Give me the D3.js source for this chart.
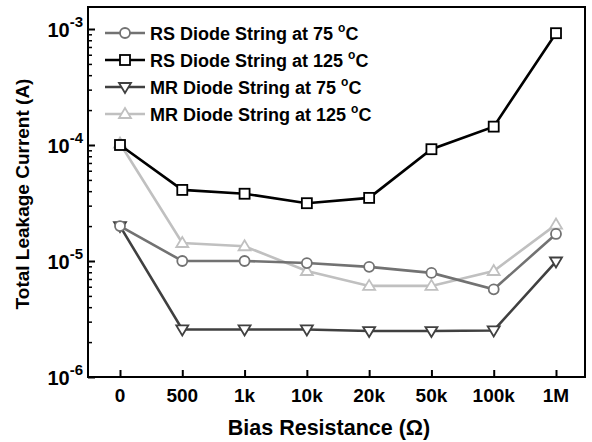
<!DOCTYPE html>
<html><head><meta charset="utf-8">
<script src="https://cdn.jsdelivr.net/npm/d3@7"></script>
<style>
html,body{margin:0;padding:0;background:#fff;}
text{font-family:Arial,"Liberation Sans",sans-serif;font-weight:bold;}
</style></head>
<body><svg id="c" width="592" height="442"></svg>
<script>
const categories = ["0","500","1k","10k","20k","50k","100k","1M"];
const rs75  = [2.0e-5, 1.0e-5, 1.0e-5, 9.6e-6, 8.9e-6, 7.9e-6, 5.7e-6, 1.71e-5];
const rs125 = [1.0e-4, 4.1e-5, 3.8e-5, 3.15e-5, 3.5e-5, 9.2e-5, 1.44e-4, 9.2e-4];
const mr75  = [2.0e-5, 2.57e-6, 2.57e-6, 2.57e-6, 2.49e-6, 2.49e-6, 2.52e-6, 9.9e-6];
const mr125 = [1.03e-4, 1.43e-5, 1.34e-5, 8.2e-6, 6.1e-6, 6.1e-6, 8.2e-6, 2.06e-5];
const seriesNames = ["RS Diode String at 75 ", "RS Diode String at 125 ", "MR Diode String at 75 ", "MR Diode String at 125 "];
const yTickExps = [-3, -4, -5, -6];

const series = [
  {name: seriesNames[0], values: rs75,  color: "#727272", marker: "circle"},
  {name: seriesNames[1], values: rs125, color: "#000000", marker: "square"},
  {name: seriesNames[2], values: mr75,  color: "#404040", marker: "tdown"},
  {name: seriesNames[3], values: mr125, color: "#c0c0c0", marker: "tup"}
];

const svg = d3.select("#c");
const L = 88, R = 585, T = 7, B = 377;

const x = d3.scalePoint().domain(categories).range([120, 556]);
const y = d3.scaleLog().domain([1e-6, 1e-3]).range([377, 29]);

// frame
svg.append("rect").attr("x", L).attr("y", T).attr("width", R - L).attr("height", B - T)
  .attr("fill", "none").attr("stroke", "#000").attr("stroke-width", 2);

// y ticks (inward)
const majors = yTickExps.map(e => Math.pow(10, e));
const minors = [];
for (let e = -6; e < -3; e++) for (let k = 2; k <= 9; k++) minors.push(k * Math.pow(10, e));
const yAxis = d3.axisLeft(y).tickValues(majors).tickSize(-7).tickFormat("");
const gy = svg.append("g").attr("transform", `translate(${L},0)`).call(yAxis);
gy.select(".domain").remove();
gy.selectAll(".tick line").attr("stroke-width", 2);
const yMinor = d3.axisLeft(y).tickValues(minors).tickSize(-4).tickFormat("");
const gym = svg.append("g").attr("transform", `translate(${L},0)`).call(yMinor);
gym.select(".domain").remove();
gym.selectAll(".tick line").attr("stroke-width", 1.5);

// y tick labels
yTickExps.forEach(e => {
  const t = svg.append("text").attr("x", 83).attr("y", y(Math.pow(10, e)) + 8)
    .attr("text-anchor", "end").attr("font-size", 20).attr("fill", "#000");
  t.append("tspan").text("10");
  t.append("tspan").attr("font-size", 15).attr("dy", -10).text(String(e));
});

// x ticks
const xAxis = d3.axisBottom(x).tickSize(-7).tickFormat("");
const gx = svg.append("g").attr("transform", `translate(0,${B})`).call(xAxis);
gx.select(".domain").remove();
gx.selectAll(".tick line").attr("stroke-width", 2);
categories.forEach(c => {
  svg.append("text").attr("x", x(c)).attr("y", 402).attr("text-anchor", "middle")
    .attr("font-size", 19).attr("fill", "#000").text(c);
});

// axis titles
svg.append("text").attr("x", 329).attr("y", 435).attr("text-anchor", "middle")
  .attr("font-size", 21.5).attr("fill", "#000").text("Bias Resistance (Ω)");
svg.append("text").attr("transform", `translate(29,194) rotate(-90)`)
  .attr("text-anchor", "middle").attr("font-size", 19).attr("fill", "#000")
  .text("Total Leakage Current (A)");

function drawMarker(g, type, cx, cy, color) {
  const s = 5;
  if (type === "circle") {
    g.append("circle").attr("cx", cx).attr("cy", cy).attr("r", s)
      .attr("fill", "#fff").attr("stroke", color).attr("stroke-width", 1.8);
  } else if (type === "square") {
    g.append("rect").attr("x", cx - s).attr("y", cy - s).attr("width", 2 * s).attr("height", 2 * s)
      .attr("fill", "#fff").attr("stroke", color).attr("stroke-width", 1.8);
  } else if (type === "tdown") {
    g.append("path").attr("d", `M${cx - 6},${cy - 4}L${cx + 6},${cy - 4}L${cx},${cy + 6}Z`)
      .attr("fill", "#fff").attr("stroke", color).attr("stroke-width", 1.8);
  } else {
    g.append("path").attr("d", `M${cx - 6},${cy + 4}L${cx + 6},${cy + 4}L${cx},${cy - 6}Z`)
      .attr("fill", "#fff").attr("stroke", color).attr("stroke-width", 1.8);
  }
}

const line = d3.line().x((d, i) => x(categories[i])).y(d => y(d));
const order = [3, 2, 0, 1];
order.forEach(si => {
  const s = series[si];
  const g = svg.append("g");
  g.append("path").attr("d", line(s.values)).attr("fill", "none")
    .attr("stroke", s.color).attr("stroke-width", 2.6);
  s.values.forEach((v, i) => drawMarker(g, s.marker, x(categories[i]), y(v), s.color));
});

// legend
series.forEach((s, i) => {
  const ly = 33 + i * 27;
  const g = svg.append("g");
  g.append("line").attr("x1", 105).attr("x2", 145).attr("y1", ly).attr("y2", ly)
    .attr("stroke", s.color).attr("stroke-width", 2.6);
  drawMarker(g, s.marker, 125, ly, s.color);
  const t = g.append("text").attr("x", 150).attr("y", ly + 6.5).attr("font-size", 18).attr("fill", "#000");
  t.append("tspan").text(s.name);
  t.append("tspan").attr("font-size", 12).attr("dy", -8).text("o");
  t.append("tspan").attr("dy", 8).text("C");
});
</script></body></html>
